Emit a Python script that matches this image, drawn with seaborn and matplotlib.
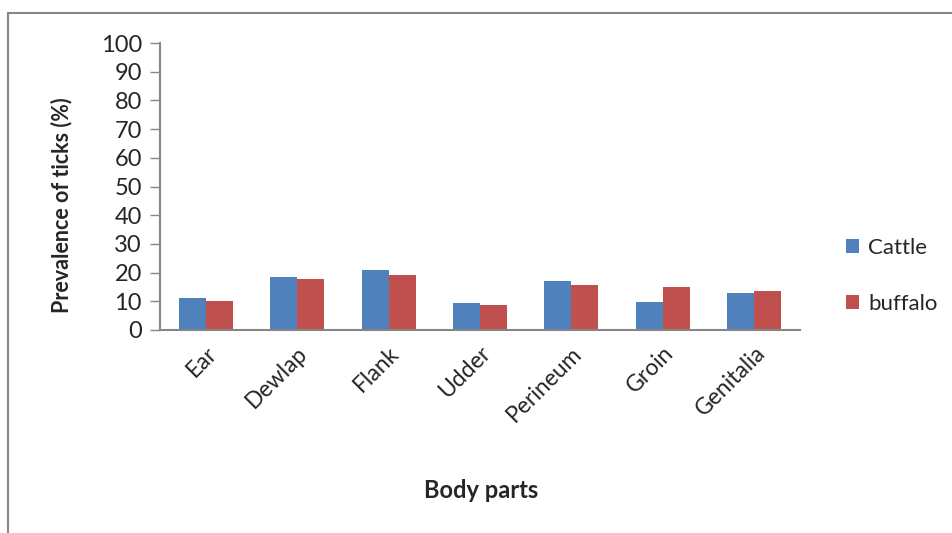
import matplotlib
matplotlib.use("Agg")
import matplotlib.pyplot as plt
import matplotlib.lines as mlines
import pandas as pd
import seaborn as sns

# values
body_parts = ["Ear", "Dewlap", "Flank", "Udder", "Perineum", "Groin", "Genitalia"]
cattle = [11.2, 18.5, 20.9, 9.4, 17.1, 9.8, 12.9]
buffalo = [10.1, 17.8, 19.2, 8.7, 15.7, 15.0, 13.6]
species = ["Cattle", "buffalo"]
palette = ["#4F81BD", "#C0504D"]

df = pd.DataFrame({
    "part": body_parts * 2,
    "species": [species[0]] * len(body_parts) + [species[1]] * len(body_parts),
    "value": cattle + buffalo,
})

sns.set_style("white")
plt.rcParams['font.family'] = ['Lato', 'DejaVu Sans']

fig = plt.figure(figsize=(9.53, 5.33), dpi=100)
ax = fig.add_axes([160 / 953, 1 - 330 / 533, 640 / 953, 287 / 533])

sns.barplot(data=df, x="part", y="value", hue="species", palette=palette,
            width=0.59, saturation=1, linewidth=0, ax=ax, legend=True)

ax.set_ylim(0, 100)
ax.set_yticks(range(0, 101, 10))
ax.set_xlim(-0.5, len(body_parts) - 0.5)
ax.tick_params(axis="y", labelsize=17, length=7, width=1, color="#868686",
               direction="out", left=True, pad=6)
ax.tick_params(axis="x", labelsize=16.5, length=0, pad=9)
plt.setp(ax.get_xticklabels(), rotation=45, ha="right", rotation_mode="anchor")

for side in ["top", "right"]:
    ax.spines[side].set_visible(False)
for side in ["left", "bottom"]:
    ax.spines[side].set_color("#868686")
    ax.spines[side].set_linewidth(1.5)

ax.set_xlabel("")
ax.set_ylabel("")
fig.text(62 / 953, 1 - 205 / 533, "Prevalence of ticks (%)", fontsize=15.5,
         fontweight="bold", rotation=90, ha="center", va="center")
fig.text(481 / 953, 1 - 491 / 533, "Body parts", fontsize=17, fontweight="bold",
         ha="center", va="center")

leg = ax.legend(loc="center left", bbox_to_anchor=(826 / 953, 1 - 276 / 533),
                bbox_transform=fig.transFigure, frameon=False, fontsize=16,
                handlelength=0.6, handleheight=0.6, handletextpad=0.4,
                labelspacing=1.6)

# outer chart border (only top and left visible)
fig.add_artist(mlines.Line2D([8 / 953, 8 / 953], [0, 1 - 13 / 533],
                             color="#868686", lw=1.5, transform=fig.transFigure))
fig.add_artist(mlines.Line2D([8 / 953, 1], [1 - 13 / 533, 1 - 13 / 533],
                             color="#868686", lw=1.5, transform=fig.transFigure))

fig.savefig("out.png", dpi=100)
